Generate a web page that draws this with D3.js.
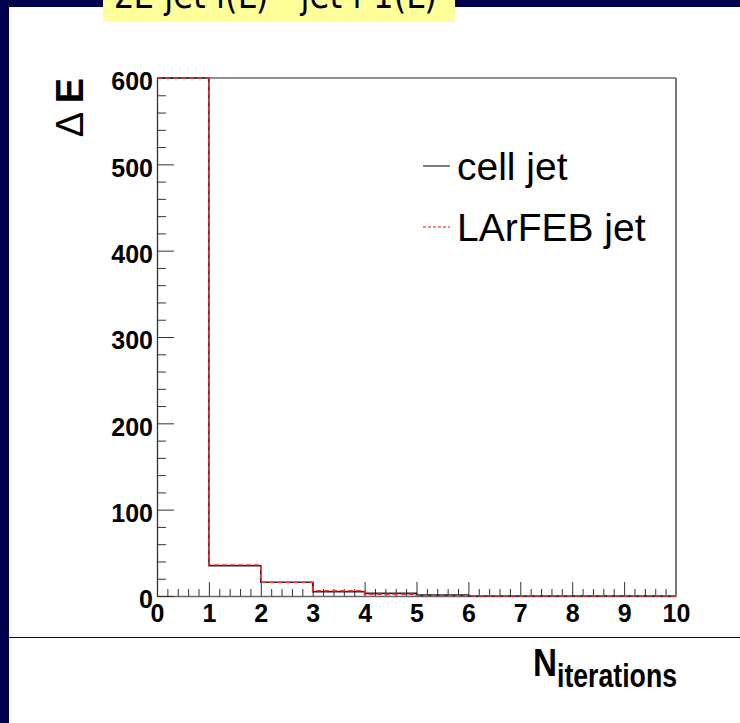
<!DOCTYPE html>
<html>
<head>
<meta charset="utf-8">
<script src="https://cdn.jsdelivr.net/npm/d3@7"></script>
<style>
  html, body { margin: 0; padding: 0; background: #fff; }
  svg { display: block; }
</style>
</head>
<body>
<div id="chart"></div>
<script>
// histogram contents, one value per unit bin of N_iterations
const binEdges = [0, 1, 2, 3, 4, 5, 6, 7, 8, 9, 10];
const cellJet = [600, 35, 16, 5, 3, 1, 0, 0, 0, 0];
const larfebJet = [600, 36, 16, 6, 2, 0.4, 0, 0, 0, 0];
const xTicks = [0, 1, 2, 3, 4, 5, 6, 7, 8, 9, 10];
const yTicks = [0, 100, 200, 300, 400, 500, 600];
const legendNames = ["cell jet", "LArFEB jet"];

const width = 740;
const height = 723;
const frame = { left: 157, right: 676, top: 78, bottom: 596 };
const navy = "#00004e";

const svg = d3.select("#chart")
    .append("svg")
    .attr("width", width)
    .attr("height", height);

// slide background: dark border strips on the left and top
svg.append("rect").attr("width", width).attr("height", height).attr("fill", "#fff");
svg.append("rect").attr("x", 0).attr("y", 0).attr("width", 9).attr("height", height).attr("fill", navy);
svg.append("rect").attr("x", 0).attr("y", 0).attr("width", width).attr("height", 7).attr("fill", navy);
svg.append("line")
    .attr("x1", 9).attr("x2", width)
    .attr("y1", 637.5).attr("y2", 637.5)
    .attr("stroke", "#000070").attr("stroke-width", 1);

// title box (text runs off the top edge)
svg.append("rect")
    .attr("x", 103).attr("y", 0)
    .attr("width", 352).attr("height", 22)
    .attr("fill", "#ffff99");
svg.append("text")
    .attr("x", 113).attr("y", 8)
    .attr("textLength", 324)
    .attr("lengthAdjust", "spacingAndGlyphs")
    .attr("font-family", "DejaVu Sans, sans-serif")
    .attr("font-size", 38)
    .attr("fill", "#000")
    .text("ΣE  jet i(L) - jet i-1(L)");

const x = d3.scaleLinear()
    .domain([0, 10])
    .range([frame.left, frame.right]);

const y = d3.scaleLinear()
    .domain([0, 600])
    .range([frame.bottom, frame.top]);

// minor ticks: 5 subdivisions per major interval
const xMinor = d3.range(0, 10.001, 0.2).filter(v => Math.abs(v - Math.round(v)) > 1e-6);
const yMinor = d3.range(0, 600.001, 20).filter(v => v % 100 !== 0);

const labelFont = "Liberation Sans, Arial, Helvetica, sans-serif";

// x axis
const gx = svg.append("g")
    .attr("transform", `translate(0,${frame.bottom})`)
    .call(d3.axisBottom(x).tickValues(xTicks).tickSizeInner(-14).tickSizeOuter(0).tickPadding(8).tickFormat(d3.format("d")));
gx.select(".domain").attr("stroke", "#666").attr("stroke-width", 1.5);
gx.selectAll(".tick line").attr("stroke", "#333");
gx.selectAll(".tick text")
    .attr("font-family", labelFont)
    .attr("font-weight", "bold")
    .attr("font-size", 25)
    .attr("fill", "#000");

svg.append("g")
    .attr("transform", `translate(0,${frame.bottom})`)
    .call(d3.axisBottom(x).tickValues(xMinor).tickSizeInner(-7).tickSizeOuter(0).tickFormat(""))
    .call(g => g.select(".domain").remove())
    .selectAll(".tick line").attr("stroke", "#333");

// y axis
const gy = svg.append("g")
    .attr("transform", `translate(${frame.left},0)`)
    .call(d3.axisLeft(y).tickValues(yTicks).tickSizeInner(-17).tickSizeOuter(0).tickPadding(4).tickFormat(d3.format("d")));
gy.select(".domain").attr("stroke", "#333").attr("stroke-width", 1.3);
gy.selectAll(".tick line").attr("stroke", "#333");
gy.selectAll(".tick text")
    .attr("font-family", labelFont)
    .attr("font-weight", "bold")
    .attr("font-size", 25)
    .attr("dy", "0.47em")
    .attr("fill", "#000");

svg.append("g")
    .attr("transform", `translate(${frame.left},0)`)
    .call(d3.axisLeft(y).tickValues(yMinor).tickSizeInner(-9).tickSizeOuter(0).tickFormat(""))
    .call(g => g.select(".domain").remove())
    .selectAll(".tick line").attr("stroke", "#333");

// frame top and right
svg.append("line")
    .attr("x1", frame.left).attr("x2", frame.right)
    .attr("y1", frame.top).attr("y2", frame.top)
    .attr("stroke", "#222").attr("stroke-width", 1.2);
svg.append("line")
    .attr("x1", frame.right).attr("x2", frame.right)
    .attr("y1", frame.top).attr("y2", frame.bottom)
    .attr("stroke", "#777").attr("stroke-width", 2);

// step outline of a histogram
const stepPath = values => {
    const p = d3.path();
    p.moveTo(x(binEdges[0]), y(values[0]));
    values.forEach((v, i) => {
        p.lineTo(x(binEdges[i]), y(v));
        p.lineTo(x(binEdges[i + 1]), y(v));
    });
    return p.toString();
};

svg.append("path")
    .attr("d", stepPath(cellJet))
    .attr("fill", "none")
    .attr("stroke", "#222")
    .attr("stroke-width", 1.6);

svg.append("path")
    .attr("d", stepPath(larfebJet))
    .attr("fill", "none")
    .attr("stroke", "#ff3030")
    .attr("stroke-width", 1.4)
    .attr("stroke-dasharray", "5,3");

// legend
const legendStyles = [
    { stroke: "#000", dash: null, width: 1 },
    { stroke: "#ff0000", dash: "3,2", width: 1 }
];
const legend = svg.append("g").attr("transform", "translate(423,166)");
legendNames.forEach((name, i) => {
    const row = legend.append("g").attr("transform", `translate(0,${i * 61})`);
    row.append("line")
        .attr("x1", 0).attr("x2", 27)
        .attr("y1", 0).attr("y2", 0)
        .attr("stroke", legendStyles[i].stroke)
        .attr("stroke-width", legendStyles[i].width)
        .attr("stroke-dasharray", legendStyles[i].dash);
    row.append("text")
        .attr("x", 34).attr("y", 14)
        .attr("font-family", labelFont)
        .attr("font-size", 39)
        .attr("fill", "#000")
        .text(name);
});

// axis titles
const yTitle = svg.append("text")
    .attr("transform", `translate(83,${frame.top}) rotate(-90)`)
    .attr("text-anchor", "end")
    .attr("font-family", labelFont)
    .attr("font-size", 38)
    .attr("fill", "#000");
yTitle.append("tspan").text("Δ ");
yTitle.append("tspan").attr("font-weight", "bold").text("E");

const xTitle = svg.append("text")
    .attr("x", 533).attr("y", 676)
    .attr("font-family", labelFont)
    .attr("font-weight", "bold")
    .attr("fill", "#000");
xTitle.append("tspan")
    .attr("font-size", 38)
    .attr("textLength", 24)
    .attr("lengthAdjust", "spacingAndGlyphs")
    .text("N");
xTitle.append("tspan")
    .attr("x", 557).attr("y", 687)
    .attr("font-size", 33)
    .attr("textLength", 120)
    .attr("lengthAdjust", "spacingAndGlyphs")
    .text("iterations");
</script>
</body>
</html>
